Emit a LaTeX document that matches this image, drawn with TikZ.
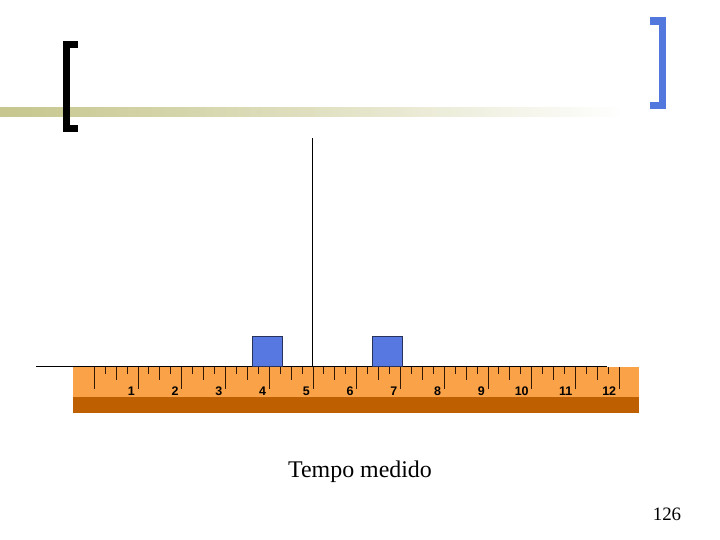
\documentclass[tikz,border=0pt]{standalone}
\usepackage{fontspec}
\setmainfont{Liberation Serif}
\newfontfamily\rulerfont{Liberation Sans}
\definecolor{olive}{RGB}{198,198,142}
\definecolor{bracketblue}{RGB}{82,120,222}
\definecolor{boxblue}{RGB}{86,120,224}
\definecolor{boxedge}{RGB}{40,50,90}
\definecolor{rulerorange}{RGB}{250,162,72}
\definecolor{rulerbrown}{RGB}{190,96,2}
\definecolor{tickcol}{RGB}{50,25,5}
\tikzset{
  bluebox/.style={draw=boxedge, line width=0.8bp, fill=boxblue, minimum size=30bp, inner sep=0pt},
  rulernum/.style={font=\rulerfont\bfseries\fontsize{12.5}{12.5}\selectfont, text=black, inner sep=0pt, anchor=east},
  tickline/.style={draw=tickcol, line width=1bp},
  caption/.style={font=\fontsize{24}{28}\selectfont, inner sep=0pt},
}
\begin{document}
\begin{tikzpicture}[x=1bp,y=-1bp]
\useasboundingbox (0,0) rectangle (720,540);
\fill[white] (0,0) rectangle (720,540);
% title decoration
\shade[left color=olive, right color=white, middle color=olive!55!white] (0,108) rectangle (625,117);
\fill[black] (63,41) rectangle (69.5,132);
\fill[black] (63,41) rectangle (78,48);
\fill[black] (63,125) rectangle (78,132);
\fill[bracketblue] (659,17) rectangle (666,109);
\fill[bracketblue] (650,17) rectangle (666,25);
\fill[bracketblue] (650,102) rectangle (666,109);
% ruler
\fill[rulerorange] (73,367) rectangle (639,397);
\fill[rulerbrown] (73,397) rectangle (639,413);
\foreach \i in {0,...,12}{
  \pgfmathsetmacro{\tx}{94.3+43.75*\i}
  \draw[tickline] (\tx,367) -- (\tx,389);
}
\foreach \i in {0,...,11}{
  \pgfmathsetmacro{\tx}{94.3+43.75*\i}
  \draw[tickline] (\tx+21.875,367) -- (\tx+21.875,380);
  \draw[tickline] (\tx+10.94,367) -- (\tx+10.94,374);
  \draw[tickline] (\tx+32.81,367) -- (\tx+32.81,374);
}
\foreach \i in {1,...,12}{
  \pgfmathsetmacro{\tx}{94.3+43.75*\i-3}
  \node[rulernum] (n\i) at (\tx,391) {\i};
}
% baseline, boxes and marker
\coordinate (L) at (36,366);
\coordinate (R) at (607,366);
\draw[black, line width=0.8bp] (L) -- (R);
\node[bluebox] (b1) at (267.3,351) {};
\node[bluebox] (b2) at (387.3,351) {};
\coordinate (vt) at (312,138);
\coordinate (vb) at (312,366);
\draw[black, line width=0.8bp] (vt) -- (vb);
% texts
\node[caption] (cap) at (360,471.5) {Tempo medido};
\node[font=\fontsize{19}{22}\selectfont, inner sep=0pt] (pg) at (667,514) {126};
\end{tikzpicture}
\end{document}
